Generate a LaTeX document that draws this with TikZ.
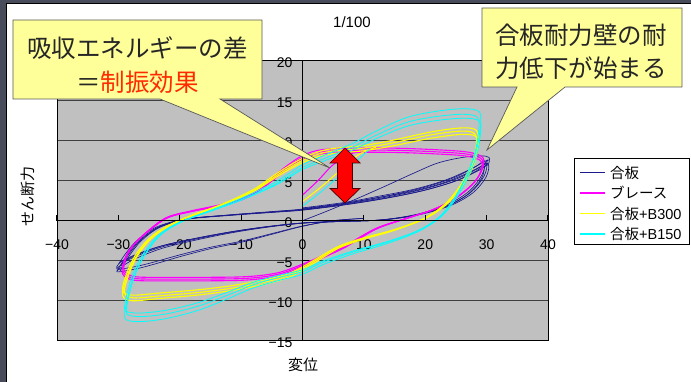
\documentclass[tikz,border=0pt]{standalone}
\usepackage{fontspec}
\setmainfont{Liberation Sans}
\newfontfamily\cjk{Noto Sans CJK JP}
\definecolor{navyc}{HTML}{1A1A8C}
\definecolor{magc}{HTML}{FF00FF}
\definecolor{yelc}{HTML}{FFFF00}
\definecolor{cyac}{HTML}{00FFFF}
\definecolor{callfill}{HTML}{FFFF99}
\definecolor{plotgray}{HTML}{C0C0C0}
\definecolor{stripc}{HTML}{474B5A}
\definecolor{redtxt}{HTML}{FF2A00}
\definecolor{arrred}{HTML}{FF0000}
\begin{document}
\begin{tikzpicture}[x=1pt,y=-1pt,
  gridln/.style={draw=black!75,line width=0.6pt},
  axisln/.style={draw=black,line width=1.6pt},
  tickln/.style={draw=black,line width=1.2pt},
  ticklbl/.style={font=\fontsize{14}{16}\selectfont, inner sep=0pt},
  navyln/.style={draw=navyc,line width=0.65pt},
  magln/.style={draw=magc,line width=1.1pt},
  yelln/.style={draw=yelc,line width=1.1pt},
  cyaln/.style={draw=cyac,line width=0.8pt},
  callout/.style={fill=callfill,draw=black!65,line width=0.7pt},
  calltxt/.style={font=\fontsize{24.5}{29}\selectfont\cjk, text=black!85, inner sep=0pt},
  legtxt/.style={font=\fontsize{14.5}{17}\selectfont, anchor=west, inner sep=0pt},
  legln/.style={line width=1.4pt},
  ]
\useasboundingbox (0,0) rectangle (691,382);
\fill[white] (0,0) rectangle (691,382);
\fill[stripc] (0,0) rectangle (6,382);
\fill[stripc] (0,0) rectangle (691,3);
\draw[black,line width=0.8pt] (6.4,3) -- (6.4,382);
\draw[black,line width=0.8pt] (6.4,3.4) -- (691,3.4);

% title and axis titles
\node[font=\fontsize{15}{17}\selectfont, inner sep=0pt] (title) at (352,22) {1/100};
\node[font=\fontsize{15}{17}\selectfont\cjk, inner sep=0pt] (xtitle) at (303,365) {変位};
\node[font=\fontsize{15}{17}\selectfont\cjk, inner sep=0pt, rotate=90] (ytitle) at (28,197) {せん断力};

\begin{scope}[shift={(302.5,220.7)}, x=6.1375pt, y=8pt]
  \fill[plotgray] (-40,-15) rectangle (40,20);
  \foreach \yv in {-10,-5,5,10,15}
    \draw[gridln] (-40,\yv) -- (40,\yv);
  \draw[black,line width=0.8pt] (-40,-15) rectangle (40,20);

  % tick labels
  \foreach \xv/\lab [count=\i] in {-40/−40,-30/−30,-20/−20,-10/−10,0/0,10/10,20/20,30/30,40/40}
    \node[ticklbl] (xl\i) at (\xv,-3.05) {\lab};
  \foreach \yv/\lab [count=\i] in {-15/−15,-10/−10,-5/−5,0/0,5/5,10/10,15/15,20/20}
    \node[ticklbl, anchor=east] (yl\i) at (-1.6,{\yv-0.2}) {\lab};

  % ----- 合板 (navy)
  \foreach \a/\b in {1/1, 0.99/1.04, 1.01/0.97, 0.985/0.94}
    \draw[navyln, xscale=\a, yscale=\b] plot[smooth cycle, tension=0.55] coordinates {
      (-30,-6) (-28.5,-4.2) (-26.5,-2.4) (-23.5,-0.8) (-19,0.2) (-12,0.7) (-5,1.1) (0,1.4)
      (7,2.1) (14,3.0) (20,4.0) (25,5.2) (28.5,6.5) (30,7.2) (29.6,5.6) (27.5,3.6) (24,2.0)
      (19,0.8) (13,0.1) (6,-0.1) (0,-0.3) (-6,-0.8) (-12,-1.5) (-18,-2.4) (-23,-3.3)
      (-27,-4.4) (-29.3,-5.3)};
  \foreach \b in {1, 0.95}
    \draw[navyln, yscale=\b] plot[smooth, tension=0.55] coordinates {
      (-29.5,-5.8) (-30.2,-6.4) (-27,-6) (-24,-5.4) (-20,-4.5) (-15,-3.5) (-10,-2.7) (-5,-1.7) (0,-0.7) (5,0) (10,0.3)};
  \foreach \b in {1, 0.95}
    \draw[navyln, yscale=\b] plot[smooth, tension=0.55] coordinates {
      (29.6,7.1) (30.2,7.6) (27,6.3) (23,5.0) (18,3.9) (12,3.0) (7,2.3) (0,1.6)};
  \draw[navyln] plot[smooth, tension=0.55] coordinates {
      (0,0) (4,1.2) (9,2.8) (14,4.5) (18,5.9) (22,7.2) (26,7.9) (29,8.1) (30.4,7.9) (30.3,7)};

  % ----- ブレース (magenta)
  \foreach \a/\b in {1/1, 1.005/1.03, 0.995/0.97}
    \draw[magln, xscale=\a, yscale=\b] plot[smooth cycle, tension=0.55] coordinates {
      (-29.2,-6.4) (-28.8,-4.6) (-27.5,-3) (-25,-1.2) (-22,0.4) (-18,1.2) (-13,2) (-9,3)
      (-6,4.5) (-3,6.4) (0,7.9) (3,8.6) (8,8.8) (15,8.8) (22,8.6) (27,8.3) (29.3,7.6)
      (29,6) (27.5,4.4) (24.5,2.6) (21,1.3) (17,0.3) (12,-1) (7,-3.2) (3,-4.6) (0,-5.6)
      (-4,-6.7) (-9,-7.2) (-16,-7.3) (-23,-7.3) (-27.5,-7.2)};
  \draw[magln] plot[smooth, tension=0.55] coordinates {(0,3.2) (2.5,5) (5,7) (8,8.4) (12,8.8)};

  % ----- 合板+B300 (yellow)
  \foreach \a/\b in {1/1, 1/0.93, 0.99/0.965}
    \draw[yelln, xscale=\a, yscale=\b] plot[smooth cycle, tension=0.55] coordinates {
      (-29.3,-9.3) (-28.6,-7) (-27.2,-4.6) (-25,-2.4) (-22,-0.7) (-18,0.7) (-13,2.1)
      (-8,3.9) (-4,6) (0,7.8) (4,8.9) (10,9.4) (15,10.1) (21,11.1) (26,11.6) (28.3,11.3)
      (28.6,9.8) (27.8,7.3) (26,4.6) (23.5,2.2) (20,0.3) (15,-1.2) (10,-2.3) (6,-3.4)
      (2.5,-5) (0,-6.2) (-3,-7.3) (-9,-8.4) (-16,-9.2) (-23,-9.7) (-27.8,-10.0)};
  \draw[yelln] plot[smooth, tension=0.55] coordinates {(0,2.4) (3,4.2) (6,6.2) (9,8.2) (12,9.2)};

  % ----- 合板+B150 (cyan)
  \foreach \a/\b in {1/1, 0.99/0.95, 1/0.915}
    \draw[cyaln, xscale=\a, yscale=\b] plot[smooth cycle, tension=0.55] coordinates {
      (-29,-12) (-28.6,-10) (-27.6,-7.2) (-26,-4.6) (-23.5,-2) (-20,-0.2) (-15,1.3)
      (-10,2.8) (-5,4.6) (-2,6) (0,7) (3,8) (8,9.6) (12,11.2) (17,12.9) (22,13.7)
      (26.5,14) (28.8,13.6) (29,12) (28.4,9) (27,6) (25,3) (22.5,0.5) (19,-1.3) (14,-2.8)
      (8,-4.2) (3,-5.6) (0,-6.7) (-4,-7.5) (-8,-8.4) (-12,-9.7) (-17,-11.2) (-22,-12.2)
      (-26,-12.6) (-28.3,-12.5)};
  \draw[cyaln] plot[smooth, tension=0.55] coordinates {(0,1.8) (3,3.6) (6,5.6) (9,7.6) (11,9)};

  % axes and ticks
  \draw[axisln] (0,-15) -- (0,20);
  \draw[axisln] (-40,0) -- (40,0);
  \foreach \xv in {-40,-30,...,40}
    \draw[tickln] (\xv,0) -- ++(0,0.75);
  \foreach \yv in {-15,-10,...,20}
    \draw[tickln] (0,\yv) -- ++(1,0);
\end{scope}

% red double arrow
\draw[fill=arrred, draw=black!70!red, line width=0.7pt]
  (345,148) -- (360,163) -- (352.5,163) -- (352.5,188.5) -- (360,188.5) -- (345,203)
  -- (330,188.5) -- (337.5,188.5) -- (337.5,163) -- (330,163) -- cycle;

% callout 1
\draw[callout] (13,20) -- (262,20) -- (262,99) -- (220,99) -- (330,168) -- (160,99) -- (13,99) -- cycle;
\node[calltxt] (c1a) at (137.5,48) {吸収エネルギーの差};
\node[calltxt] (c1b) at (137.5,82) {＝\textcolor{redtxt}{制振効果}};

% callout 2
\draw[callout] (482,8) -- (682,8) -- (682,87) -- (565,87) -- (487,150) -- (517,87) -- (482,87) -- cycle;
\node[calltxt] (c2a) at (581,35) {合板耐力壁の耐};
\node[calltxt] (c2b) at (581,68) {力低下が始まる};

% legend
\draw[fill=white, draw=black, line width=0.7pt] (574,158) rectangle (689,244);
\coordinate (l1a) at (580,172.5); \coordinate (l1b) at (605,172.5);
\coordinate (l2a) at (580,193);   \coordinate (l2b) at (605,193);
\coordinate (l3a) at (580,213.5); \coordinate (l3b) at (605,213.5);
\coordinate (l4a) at (580,234);   \coordinate (l4b) at (605,234);
\draw[legln, draw=navyc] (l1a) -- (l1b);
\draw[legln, draw=magc] (l2a) -- (l2b);
\draw[legln, draw=yelc] (l3a) -- (l3b);
\draw[legln, draw=cyac] (l4a) -- (l4b);
\node[legtxt] (t1) at (610,172.5) {\cjk 合板};
\node[legtxt] (t2) at (610,193) {\cjk ブレース};
\node[legtxt] (t3) at (610,213.5) {{\cjk 合板}+B300};
\node[legtxt] (t4) at (610,234) {{\cjk 合板}+B150};
\end{tikzpicture}
\end{document}
